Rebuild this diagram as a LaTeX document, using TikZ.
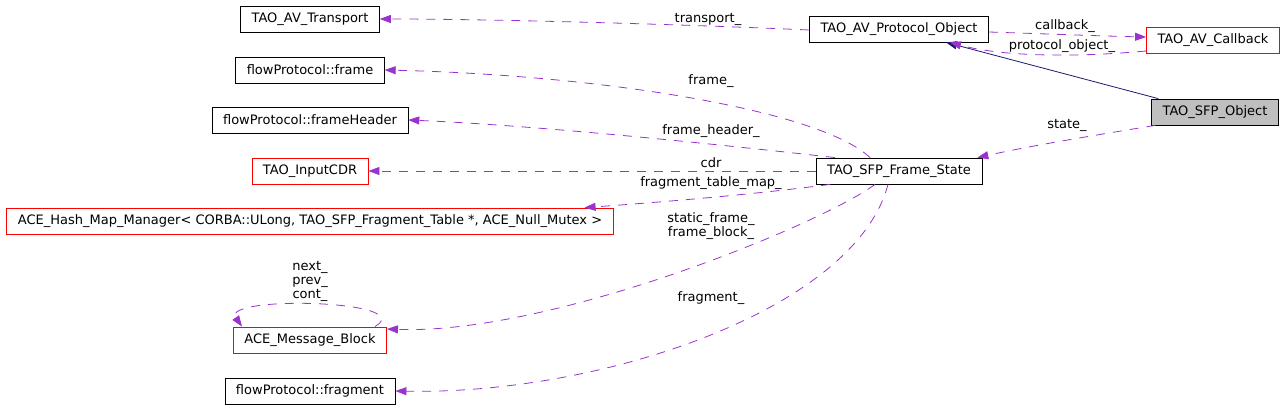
\documentclass[tikz,border=0pt]{standalone}
\usepackage{fontspec}
\setmainfont{DejaVu Sans}
\usetikzlibrary{arrows.meta}
\definecolor{dxpurple}{HTML}{9A32CD}
\definecolor{dxnavy}{HTML}{191970}
\begin{document}
\begin{tikzpicture}[x=1pt, y=-1pt, font=\fontsize{13}{14}\selectfont, class node/.style={rectangle,draw,line width=0.8pt,minimum height=26pt,inner xsep=11pt,inner ysep=0pt}, red node/.style={class node,draw=red}, use edge/.style={draw=dxpurple,line width=0.8pt,dash pattern=on 9pt off 8pt,-{Triangle[length=11pt,width=8pt]}}, inherit edge/.style={draw=dxnavy,line width=0.8pt,-{Triangle[length=11pt,width=8pt]}}, lbl/.style={inner sep=0pt,align=center}]
\useasboundingbox (0,0) rectangle (1288,409);
\begin{scope}
\node[class node] (transport) at (310,19) {TAO\_AV\_Transport};%1
\node[class node] (frame) at (310,70) {flowProtocol::frame};%2
\node[class node] (frameheader) at (310,120) {flowProtocol::frameHeader};%3
\node[red node] (inputcdr) at (310,171) {TAO\_InputCDR};%4
\node[red node] (hashmap) at (310,221) {ACE\_Hash\_Map\_Manager< CORBA::ULong, TAO\_SFP\_Fragment\_Table *, ACE\_Null\_Mutex >};%5
\node[red node] (msgblock) at (310,340) {ACE\_Message\_Block};%6
\node[class node] (fragment) at (310,391) {flowProtocol::fragment};%7
\node[class node] (framestate) at (899,171) {TAO\_SFP\_Frame\_State};%8
\node[class node] (protobj) at (899,29) {TAO\_AV\_Protocol\_Object};%9
\node[red node] (callback) at (1213,40) {TAO\_AV\_Callback};%10
\node[class node,fill=black!25] (sfpobj) at (1215,112) {TAO\_SFP\_Object};%11
\end{scope}
\begin{scope}
\draw[inherit edge] ([xshift=7pt]sfpobj.north west) -- ([xshift=47pt]protobj.south);
\draw[use edge] ([xshift=4pt]sfpobj.south west) .. controls (1090,136) and (1030,146) .. ([xshift=-5pt]framestate.north east) node[lbl] at (1067,125) {state\_};
\draw[use edge] ([yshift=-3pt]protobj.east) .. controls (1050,34) and (1100,36) .. ([yshift=3pt]callback.west) node[lbl] at (1065,26) {callback\_};
\draw[use edge] ([yshift=-11pt]callback.west) .. controls (1070,58) and (1000,56) .. ([xshift=51pt]protobj.south) node[lbl] at (1062,46) {protocol\_object\_};
\draw[use edge] ([yshift=-1pt]protobj.west) .. controls (700,25) and (500,19) .. (transport.east) node[lbl] at (708,19) {transport\_};
\draw[use edge] ([xshift=-29pt]framestate.north) .. controls (820,110) and (600,75) .. (frame.east) node[lbl] at (711,81) {frame\_};
\draw[use edge] ([xshift=-64pt]framestate.north) .. controls (750,148) and (550,126) .. (frameheader.east) node[lbl] at (711,131) {frame\_header\_};
\draw[use edge] (framestate.west) -- (inputcdr.east) node[lbl] at (711,163) {cdr};
\draw[use edge] ([xshift=-69pt]framestate.south) .. controls (750,195) and (650,203) .. ([xshift=-29pt]hashmap.north east) node[lbl] at (711,183) {fragment\_table\_map\_};
\draw[use edge] ([xshift=-24pt]framestate.south) .. controls (820,225) and (550,335) .. ([yshift=11pt]msgblock.east) node[lbl] at (711,226) {static\_frame\_\\frame\_block\_};
\draw[use edge] ([xshift=-11pt]framestate.south) .. controls (855,310) and (600,395) .. (fragment.east) node[lbl] at (711,298) {fragment\_};
\draw[use edge] ([xshift=65pt]msgblock.north) .. controls (420,300) and (220,295) .. ([xshift=-68pt]msgblock.north) node[lbl] at (310,281) {next\_\\prev\_\\cont\_};
\end{scope}
\end{tikzpicture}
\end{document}
